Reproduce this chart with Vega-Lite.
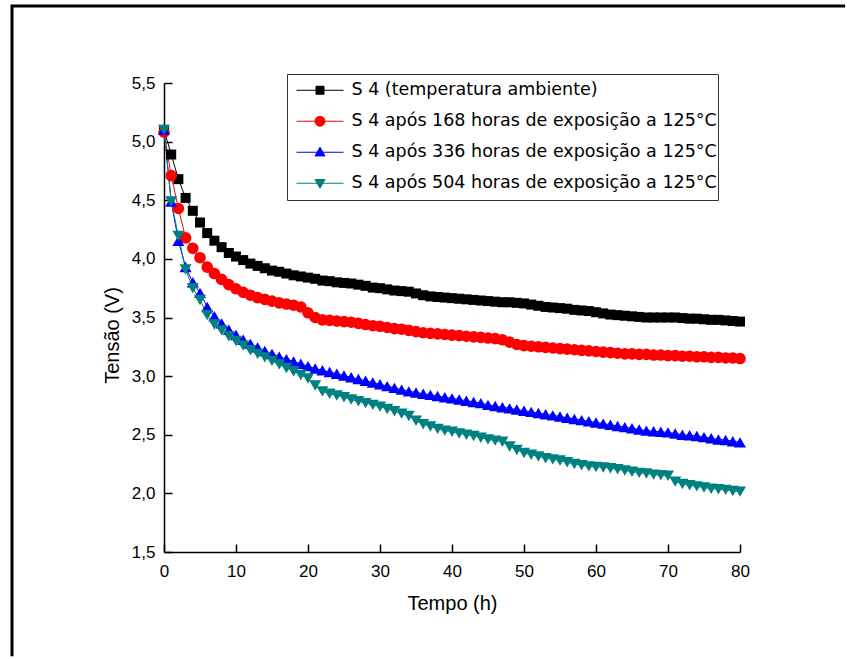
{
"$schema": "https://vega.github.io/schema/vega-lite/v6.json",
"width": 576, "height": 469,
"autosize": {"type": "none"},
"padding": {"left": 164, "top": 83, "right": 107, "bottom": 107},
"background": "white",
"config": {"view": {"stroke": null}},
"datasets": {
"frame": [{"fx": 94.6, "fy": 6.157, "o": 0}, {"fx": -21.11, "fy": 6.157, "o": 1}, {"fx": -21.11, "fy": 0.61, "o": 2}],
"d": [
{"s":"A","t":0,"v":5.10},{"s":"A","t":1,"v":4.89},{"s":"A","t":2,"v":4.68},{"s":"A","t":3,"v":4.52},{"s":"A","t":4,"v":4.41},{"s":"A","t":5,"v":4.31},{"s":"A","t":6,"v":4.22},{"s":"A","t":7,"v":4.155},{"s":"A","t":8,"v":4.10},{"s":"A","t":9,"v":4.05},{"s":"A","t":10,"v":4.02},{"s":"A","t":11,"v":3.99},{"s":"A","t":12,"v":3.96},{"s":"A","t":13,"v":3.94},{"s":"A","t":14,"v":3.92},{"s":"A","t":15,"v":3.90},{"s":"A","t":16,"v":3.89},{"s":"A","t":17,"v":3.875},{"s":"A","t":18,"v":3.86},{"s":"A","t":19,"v":3.85},{"s":"A","t":20,"v":3.84},{"s":"A","t":21,"v":3.83},{"s":"A","t":22,"v":3.815},{"s":"A","t":23,"v":3.81},{"s":"A","t":24,"v":3.80},{"s":"A","t":25,"v":3.795},{"s":"A","t":26,"v":3.79},{"s":"A","t":27,"v":3.78},{"s":"A","t":28,"v":3.77},{"s":"A","t":29,"v":3.755},{"s":"A","t":30,"v":3.75},{"s":"A","t":31,"v":3.74},{"s":"A","t":32,"v":3.73},{"s":"A","t":33,"v":3.725},{"s":"A","t":34,"v":3.72},{"s":"A","t":35,"v":3.705},{"s":"A","t":36,"v":3.69},{"s":"A","t":37,"v":3.68},{"s":"A","t":38,"v":3.675},{"s":"A","t":39,"v":3.67},{"s":"A","t":40,"v":3.665},{"s":"A","t":41,"v":3.66},{"s":"A","t":42,"v":3.655},{"s":"A","t":43,"v":3.65},{"s":"A","t":44,"v":3.645},{"s":"A","t":45,"v":3.64},{"s":"A","t":46,"v":3.635},{"s":"A","t":47,"v":3.63},{"s":"A","t":48,"v":3.63},{"s":"A","t":49,"v":3.625},{"s":"A","t":50,"v":3.62},{"s":"A","t":51,"v":3.61},{"s":"A","t":52,"v":3.60},{"s":"A","t":53,"v":3.59},{"s":"A","t":54,"v":3.585},{"s":"A","t":55,"v":3.58},{"s":"A","t":56,"v":3.575},{"s":"A","t":57,"v":3.565},{"s":"A","t":58,"v":3.56},{"s":"A","t":59,"v":3.555},{"s":"A","t":60,"v":3.545},{"s":"A","t":61,"v":3.535},{"s":"A","t":62,"v":3.525},{"s":"A","t":63,"v":3.52},{"s":"A","t":64,"v":3.515},{"s":"A","t":65,"v":3.51},{"s":"A","t":66,"v":3.505},{"s":"A","t":67,"v":3.50},{"s":"A","t":68,"v":3.50},{"s":"A","t":69,"v":3.50},{"s":"A","t":70,"v":3.50},{"s":"A","t":71,"v":3.50},{"s":"A","t":72,"v":3.495},{"s":"A","t":73,"v":3.49},{"s":"A","t":74,"v":3.49},{"s":"A","t":75,"v":3.485},{"s":"A","t":76,"v":3.48},{"s":"A","t":77,"v":3.48},{"s":"A","t":78,"v":3.475},{"s":"A","t":79,"v":3.47},{"s":"A","t":80,"v":3.465},
{"s":"B","t":0,"v":5.08},{"s":"B","t":1,"v":4.71},{"s":"B","t":2,"v":4.43},{"s":"B","t":3,"v":4.18},{"s":"B","t":4,"v":4.09},{"s":"B","t":5,"v":4.01},{"s":"B","t":6,"v":3.93},{"s":"B","t":7,"v":3.875},{"s":"B","t":8,"v":3.825},{"s":"B","t":9,"v":3.78},{"s":"B","t":10,"v":3.745},{"s":"B","t":11,"v":3.715},{"s":"B","t":12,"v":3.69},{"s":"B","t":13,"v":3.67},{"s":"B","t":14,"v":3.655},{"s":"B","t":15,"v":3.64},{"s":"B","t":16,"v":3.625},{"s":"B","t":17,"v":3.615},{"s":"B","t":18,"v":3.605},{"s":"B","t":19,"v":3.59},{"s":"B","t":20,"v":3.54},{"s":"B","t":21,"v":3.50},{"s":"B","t":22,"v":3.48},{"s":"B","t":23,"v":3.475},{"s":"B","t":24,"v":3.47},{"s":"B","t":25,"v":3.465},{"s":"B","t":26,"v":3.46},{"s":"B","t":27,"v":3.45},{"s":"B","t":28,"v":3.44},{"s":"B","t":29,"v":3.43},{"s":"B","t":30,"v":3.425},{"s":"B","t":31,"v":3.415},{"s":"B","t":32,"v":3.405},{"s":"B","t":33,"v":3.40},{"s":"B","t":34,"v":3.39},{"s":"B","t":35,"v":3.38},{"s":"B","t":36,"v":3.37},{"s":"B","t":37,"v":3.365},{"s":"B","t":38,"v":3.36},{"s":"B","t":39,"v":3.355},{"s":"B","t":40,"v":3.35},{"s":"B","t":41,"v":3.345},{"s":"B","t":42,"v":3.34},{"s":"B","t":43,"v":3.335},{"s":"B","t":44,"v":3.33},{"s":"B","t":45,"v":3.325},{"s":"B","t":46,"v":3.32},{"s":"B","t":47,"v":3.31},{"s":"B","t":48,"v":3.29},{"s":"B","t":49,"v":3.27},{"s":"B","t":50,"v":3.26},{"s":"B","t":51,"v":3.255},{"s":"B","t":52,"v":3.25},{"s":"B","t":53,"v":3.245},{"s":"B","t":54,"v":3.24},{"s":"B","t":55,"v":3.235},{"s":"B","t":56,"v":3.23},{"s":"B","t":57,"v":3.225},{"s":"B","t":58,"v":3.22},{"s":"B","t":59,"v":3.215},{"s":"B","t":60,"v":3.21},{"s":"B","t":61,"v":3.205},{"s":"B","t":62,"v":3.20},{"s":"B","t":63,"v":3.195},{"s":"B","t":64,"v":3.19},{"s":"B","t":65,"v":3.19},{"s":"B","t":66,"v":3.185},{"s":"B","t":67,"v":3.185},{"s":"B","t":68,"v":3.18},{"s":"B","t":69,"v":3.18},{"s":"B","t":70,"v":3.175},{"s":"B","t":71,"v":3.175},{"s":"B","t":72,"v":3.17},{"s":"B","t":73,"v":3.17},{"s":"B","t":74,"v":3.165},{"s":"B","t":75,"v":3.165},{"s":"B","t":76,"v":3.16},{"s":"B","t":77,"v":3.16},{"s":"B","t":78,"v":3.155},{"s":"B","t":79,"v":3.155},{"s":"B","t":80,"v":3.15},
{"s":"C","t":0,"v":5.10},{"s":"C","t":1,"v":4.49},{"s":"C","t":2,"v":4.155},{"s":"C","t":3,"v":3.93},{"s":"C","t":4,"v":3.80},{"s":"C","t":5,"v":3.71},{"s":"C","t":6,"v":3.59},{"s":"C","t":7,"v":3.51},{"s":"C","t":8,"v":3.45},{"s":"C","t":9,"v":3.395},{"s":"C","t":10,"v":3.35},{"s":"C","t":11,"v":3.31},{"s":"C","t":12,"v":3.275},{"s":"C","t":13,"v":3.245},{"s":"C","t":14,"v":3.215},{"s":"C","t":15,"v":3.19},{"s":"C","t":16,"v":3.165},{"s":"C","t":17,"v":3.145},{"s":"C","t":18,"v":3.125},{"s":"C","t":19,"v":3.105},{"s":"C","t":20,"v":3.085},{"s":"C","t":21,"v":3.065},{"s":"C","t":22,"v":3.05},{"s":"C","t":23,"v":3.035},{"s":"C","t":24,"v":3.02},{"s":"C","t":25,"v":3.005},{"s":"C","t":26,"v":2.99},{"s":"C","t":27,"v":2.975},{"s":"C","t":28,"v":2.96},{"s":"C","t":29,"v":2.945},{"s":"C","t":30,"v":2.93},{"s":"C","t":31,"v":2.915},{"s":"C","t":32,"v":2.90},{"s":"C","t":33,"v":2.885},{"s":"C","t":34,"v":2.87},{"s":"C","t":35,"v":2.86},{"s":"C","t":36,"v":2.85},{"s":"C","t":37,"v":2.84},{"s":"C","t":38,"v":2.83},{"s":"C","t":39,"v":2.82},{"s":"C","t":40,"v":2.81},{"s":"C","t":41,"v":2.80},{"s":"C","t":42,"v":2.79},{"s":"C","t":43,"v":2.78},{"s":"C","t":44,"v":2.77},{"s":"C","t":45,"v":2.755},{"s":"C","t":46,"v":2.745},{"s":"C","t":47,"v":2.735},{"s":"C","t":48,"v":2.725},{"s":"C","t":49,"v":2.715},{"s":"C","t":50,"v":2.705},{"s":"C","t":51,"v":2.695},{"s":"C","t":52,"v":2.685},{"s":"C","t":53,"v":2.675},{"s":"C","t":54,"v":2.665},{"s":"C","t":55,"v":2.655},{"s":"C","t":56,"v":2.645},{"s":"C","t":57,"v":2.635},{"s":"C","t":58,"v":2.625},{"s":"C","t":59,"v":2.615},{"s":"C","t":60,"v":2.605},{"s":"C","t":61,"v":2.595},{"s":"C","t":62,"v":2.585},{"s":"C","t":63,"v":2.575},{"s":"C","t":64,"v":2.565},{"s":"C","t":65,"v":2.555},{"s":"C","t":66,"v":2.545},{"s":"C","t":67,"v":2.535},{"s":"C","t":68,"v":2.53},{"s":"C","t":69,"v":2.525},{"s":"C","t":70,"v":2.52},{"s":"C","t":71,"v":2.51},{"s":"C","t":72,"v":2.50},{"s":"C","t":73,"v":2.495},{"s":"C","t":74,"v":2.49},{"s":"C","t":75,"v":2.48},{"s":"C","t":76,"v":2.47},{"s":"C","t":77,"v":2.46},{"s":"C","t":78,"v":2.455},{"s":"C","t":79,"v":2.445},{"s":"C","t":80,"v":2.435},
{"s":"D","t":0,"v":5.10},{"s":"D","t":1,"v":4.49},{"s":"D","t":2,"v":4.195},{"s":"D","t":3,"v":3.91},{"s":"D","t":4,"v":3.75},{"s":"D","t":5,"v":3.65},{"s":"D","t":6,"v":3.52},{"s":"D","t":7,"v":3.44},{"s":"D","t":8,"v":3.39},{"s":"D","t":9,"v":3.34},{"s":"D","t":10,"v":3.30},{"s":"D","t":11,"v":3.26},{"s":"D","t":12,"v":3.22},{"s":"D","t":13,"v":3.19},{"s":"D","t":14,"v":3.16},{"s":"D","t":15,"v":3.13},{"s":"D","t":16,"v":3.10},{"s":"D","t":17,"v":3.07},{"s":"D","t":18,"v":3.04},{"s":"D","t":19,"v":3.01},{"s":"D","t":20,"v":2.98},{"s":"D","t":21,"v":2.92},{"s":"D","t":22,"v":2.87},{"s":"D","t":23,"v":2.85},{"s":"D","t":24,"v":2.835},{"s":"D","t":25,"v":2.82},{"s":"D","t":26,"v":2.80},{"s":"D","t":27,"v":2.785},{"s":"D","t":28,"v":2.77},{"s":"D","t":29,"v":2.755},{"s":"D","t":30,"v":2.74},{"s":"D","t":31,"v":2.72},{"s":"D","t":32,"v":2.70},{"s":"D","t":33,"v":2.68},{"s":"D","t":34,"v":2.66},{"s":"D","t":35,"v":2.62},{"s":"D","t":36,"v":2.59},{"s":"D","t":37,"v":2.57},{"s":"D","t":38,"v":2.55},{"s":"D","t":39,"v":2.535},{"s":"D","t":40,"v":2.525},{"s":"D","t":41,"v":2.51},{"s":"D","t":42,"v":2.50},{"s":"D","t":43,"v":2.49},{"s":"D","t":44,"v":2.475},{"s":"D","t":45,"v":2.46},{"s":"D","t":46,"v":2.45},{"s":"D","t":47,"v":2.44},{"s":"D","t":48,"v":2.40},{"s":"D","t":49,"v":2.37},{"s":"D","t":50,"v":2.345},{"s":"D","t":51,"v":2.33},{"s":"D","t":52,"v":2.315},{"s":"D","t":53,"v":2.30},{"s":"D","t":54,"v":2.29},{"s":"D","t":55,"v":2.28},{"s":"D","t":56,"v":2.265},{"s":"D","t":57,"v":2.25},{"s":"D","t":58,"v":2.24},{"s":"D","t":59,"v":2.23},{"s":"D","t":60,"v":2.225},{"s":"D","t":61,"v":2.22},{"s":"D","t":62,"v":2.215},{"s":"D","t":63,"v":2.205},{"s":"D","t":64,"v":2.195},{"s":"D","t":65,"v":2.185},{"s":"D","t":66,"v":2.175},{"s":"D","t":67,"v":2.17},{"s":"D","t":68,"v":2.16},{"s":"D","t":69,"v":2.155},{"s":"D","t":70,"v":2.15},{"s":"D","t":71,"v":2.10},{"s":"D","t":72,"v":2.08},{"s":"D","t":73,"v":2.07},{"s":"D","t":74,"v":2.06},{"s":"D","t":75,"v":2.05},{"s":"D","t":76,"v":2.04},{"s":"D","t":77,"v":2.035},{"s":"D","t":78,"v":2.03},{"s":"D","t":79,"v":2.02},{"s":"D","t":80,"v":2.015}
]
},
"layer": [
{
"data": {"name": "d"},
"mark": {"type": "line", "strokeWidth": 1},
"encoding": {
"x": {"field": "t", "type": "quantitative", "scale": {"domain": [0, 80], "nice": false, "zero": false},
 "axis": {"values": [0,5,10,15,20,25,30,35,40,45,50,55,60,65,70,75,80], "grid": false,
  "domainColor": "black", "domainWidth": 1.5, "tickColor": "black", "tickWidth": 1.5,
  "tickSize": {"condition": {"test": "datum.value % 10 === 0", "value": -8}, "value": -4},
  "labelExpr": "datum.value % 10 === 0 ? datum.label : ''",
  "labelFont": "Liberation Sans", "labelFontSize": 17, "labelColor": "black", "labelPadding": 32, "labelBaseline": "alphabetic", "labelFlush": false, "labelOverlap": false,
  "title": "Tempo (h)", "titleFont": "Liberation Sans", "titleFontSize": 20, "titleFontWeight": "normal", "titleColor": "black", "titleBaseline": "alphabetic", "titleX": 288, "titleY": 57, "titleAlign": "center"}},
"y": {"field": "v", "type": "quantitative", "scale": {"domain": [1.5, 5.5], "nice": false, "zero": false},
 "axis": {"values": [1.5,1.75,2,2.25,2.5,2.75,3,3.25,3.5,3.75,4,4.25,4.5,4.75,5,5.25,5.5], "grid": false,
  "domainColor": "black", "domainWidth": 1.5, "tickColor": "black", "tickWidth": 1.5,
  "tickSize": {"condition": {"test": "abs(datum.value*2 - round(datum.value*2)) < 0.01", "value": -8}, "value": -4},
  "labelExpr": "abs(datum.value*2 - round(datum.value*2)) < 0.01 ? replace(format(datum.value, '.1f'), '.', ',') : ''",
  "labelFont": "Liberation Sans", "labelFontSize": 17, "labelColor": "black", "labelPadding": 17, "labelFlush": false, "labelOverlap": false,
  "title": "Tensão (V)", "titleFont": "Liberation Sans", "titleFontSize": 20, "titleFontWeight": "normal", "titleColor": "black", "titleAngle": 270, "titleBaseline": "alphabetic", "titleX": -46, "titleY": 252, "titleAlign": "center"}},
"color": {"field": "s", "type": "nominal",
 "scale": {"domain": ["A","B","C","D"], "range": ["#000000","#FF0000","#0000FF","#008080"]},
 "legend": {"orient": "none", "legendX": 123, "legendY": -9, "title": null,
  "padding": 1, "clipHeight": 30.5, "rowPadding": 0, "symbolSize": 400, "symbolOffset": 21.5, "labelOffset": 21,
  "labelFont": "DejaVu Sans", "labelFontSize": 17.5, "labelColor": "black", "labelLimit": 600,
  "strokeColor": "#333333", "fillColor": "white",
  "labelExpr": "({'A':'S 4 (temperatura ambiente)','B':'S 4 após 168 horas de exposição a 125°C','C':'S 4 após 336 horas de exposição a 125°C','D':'S 4 após 504 horas de exposição a 125°C'})[datum.value]",
  "encode": {"symbols": {"update": {
   "shape": {"signal": "({'A':'M-2.35,0H2.35M-0.4,-0.4H0.4V0.4H-0.4Z','B':'M-2.35,0H2.35M0.5,0A0.5,0.5,0,1,1,-0.5,0A0.5,0.5,0,1,1,0.5,0Z','C':'M-2.35,0H2.35M0,-0.5L0.5,0.37L-0.5,0.37Z','D':'M-2.35,0H2.35M0,0.5L0.5,-0.37L-0.5,-0.37Z'})[datum.value]"},
   "fill": {"scale": "color", "field": "value"},
   "stroke": {"scale": "color", "field": "value"},
   "size": {"value": 400},
   "strokeWidth": {"value": 1},
   "opacity": {"value": 1}
  }}}
 }}
}
},
{
"data": {"name": "d"},
"transform": [{"filter": "datum.s === 'A'"}],
"mark": {"type": "point", "filled": true, "opacity": 1, "shape": "square", "size": 100, "color": "#000000"},
"encoding": {"x": {"field": "t", "type": "quantitative"}, "y": {"field": "v", "type": "quantitative"}}
},
{
"data": {"name": "d"},
"transform": [{"filter": "datum.s === 'B'"}],
"mark": {"type": "point", "filled": true, "opacity": 1, "shape": "circle", "size": 135, "color": "#FF0000"},
"encoding": {"x": {"field": "t", "type": "quantitative"}, "y": {"field": "v", "type": "quantitative"}}
},
{
"data": {"name": "d"},
"transform": [{"filter": "datum.s === 'C'"}],
"mark": {"type": "point", "filled": true, "opacity": 1, "shape": "triangle-up", "size": 145, "color": "#0000FF"},
"encoding": {"x": {"field": "t", "type": "quantitative"}, "y": {"field": "v", "type": "quantitative"}}
},
{
"data": {"name": "d"},
"transform": [{"filter": "datum.s === 'D'"}],
"mark": {"type": "point", "filled": true, "opacity": 1, "shape": "triangle-down", "size": 145, "color": "#008080"},
"encoding": {"x": {"field": "t", "type": "quantitative"}, "y": {"field": "v", "type": "quantitative"}}
},
{
"data": {"name": "frame"},
"mark": {"type": "line", "color": "black", "strokeWidth": 3, "strokeJoin": "miter"},
"encoding": {"x": {"field": "fx", "type": "quantitative"}, "y": {"field": "fy", "type": "quantitative"}, "order": {"field": "o", "type": "quantitative"}}
}
]
}
